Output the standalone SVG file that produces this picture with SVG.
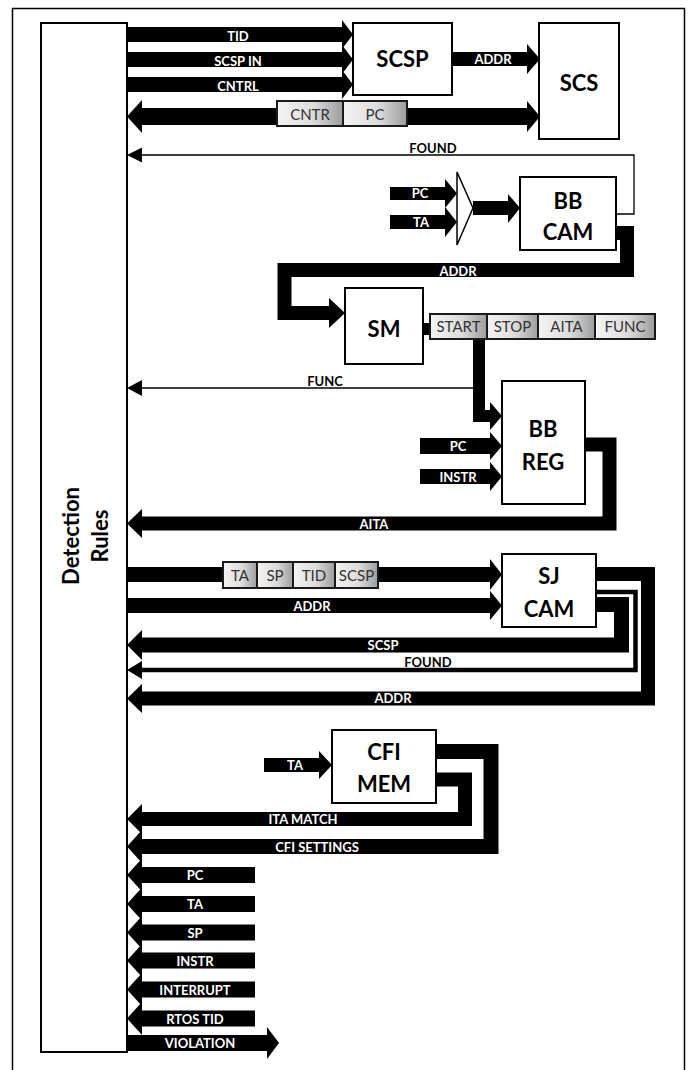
<svg xmlns="http://www.w3.org/2000/svg" width="691" height="1070" viewBox="0 0 691 1070">
<defs>
<linearGradient id="g" x1="0" y1="0" x2="1" y2="0">
<stop offset="0" stop-color="#f4f4f4"/>
<stop offset="0.55" stop-color="#dcdcdc"/>
<stop offset="1" stop-color="#9c9c9c"/>
</linearGradient>
<style>
.frame{fill:none;stroke:#000;stroke-width:1.5}
.box{fill:#fff;stroke:#000;stroke-width:2}
.blk{font-family:Lato,"Liberation Sans",sans-serif;font-weight:bold;font-size:22px;text-anchor:middle;fill:#000}
.lbl{font-family:Lato,"Liberation Sans",sans-serif;font-weight:bold;font-size:13px;text-anchor:middle;fill:#fff}
.lblk{font-family:Lato,"Liberation Sans",sans-serif;font-weight:bold;font-size:13px;text-anchor:middle;fill:#000}
.reg{font-family:Lato,"Liberation Sans",sans-serif;font-size:15px;text-anchor:middle;fill:#333}
.cell{fill:url(#g);stroke:#1a1a1a;stroke-width:2}
.bus{fill:none;stroke:#000;stroke-linejoin:miter}
.thin{fill:none;stroke:#000;stroke-width:1.3}
.hd{fill:#000}
</style>
</defs>
<rect class="frame" x="12.5" y="8.5" width="672" height="1075"/>

<g id="detection-rules">
<rect class="box" x="41" y="23" width="86" height="1029"/>
<text class="blk" font-size="23" transform="translate(79,536) rotate(-90)">Detection</text>
<text class="blk" font-size="23" transform="translate(108,536) rotate(-90)">Rules</text>
</g>

<g id="connectors">
<!-- top inputs to SCSP -->
<rect x="127" y="27" width="215" height="15"/>
<polygon class="hd" points="342,20 353,34.5 342,49"/>
<rect x="127" y="52" width="215" height="15"/>
<polygon class="hd" points="342,45 353,59.5 342,74"/>
<rect x="127" y="77" width="215" height="15"/>
<polygon class="hd" points="342,70 353,84.5 342,99"/>
<!-- CNTR/PC bidirectional -->
<rect x="142" y="108" width="385" height="17"/>
<polygon class="hd" points="142,100 127,116.5 142,133"/>
<polygon class="hd" points="527,101 540,116.5 527,132"/>
<!-- SCSP -> SCS ADDR -->
<rect x="452" y="52" width="75" height="14"/>
<polygon class="hd" points="527,44 540,59 527,74"/>
<!-- FOUND top -->
<path class="thin" d="M142 155 H634 V214 H616"/>
<polygon class="hd" points="142,147.5 127,155 142,162.5"/>
<!-- PC, TA to mux -->
<rect x="390" y="187" width="55" height="13"/>
<polygon class="hd" points="445,179 457,193.5 445,208"/>
<rect x="390" y="215" width="55" height="14"/>
<polygon class="hd" points="445,207 457,222 445,237"/>
<!-- mux -->
<polygon points="457,172 473,208 457,245" fill="#fff" stroke="#000" stroke-width="1.5"/>
<!-- mux -> BB CAM -->
<rect x="473" y="201" width="35" height="14"/>
<polygon class="hd" points="508,194 520,208 508,223"/>
<!-- BB CAM ADDR -> SM -->
<path class="bus" stroke-width="14" d="M616 233 H627 V270 H284.5 V313 H330"/>
<polygon class="hd" points="329,298 345,313 329,328"/>
<!-- SM -> register -->
<rect x="423" y="323" width="8" height="12"/>
<!-- register -> BB REG -->
<path class="bus" stroke-width="12" d="M479 339 V416 H491"/>
<polygon class="hd" points="490,402 502,416 490,430"/>
<!-- FUNC -->
<path class="thin" d="M142 388 H473"/>
<polygon class="hd" points="142,380 127,388 142,396"/>
<!-- PC, INSTR to BB REG -->
<rect x="420" y="438" width="70" height="16"/>
<polygon class="hd" points="490,432 502,446 490,460"/>
<rect x="420" y="469" width="70" height="15"/>
<polygon class="hd" points="490,462 502,476.5 490,491"/>
<!-- AITA -->
<path class="bus" stroke-width="14" d="M585 444.5 H609.5 V523.5 H142"/>
<polygon class="hd" points="142,509 127,523.5 142,538"/>
<!-- SJ inputs -->
<rect x="127" y="567" width="363" height="15"/>
<polygon class="hd" points="490,559 502,574.5 490,590"/>
<rect x="127" y="598" width="363" height="15"/>
<polygon class="hd" points="490,591 502,605.5 490,620"/>
<!-- SJ outputs -->
<path class="bus" stroke-width="15" d="M596 604.5 H621.5 V645 H142"/>
<polygon class="hd" points="142,630 127,645 142,660"/>
<path class="bus" stroke-width="4.5" d="M596 592 H635.5 V670 H142"/>
<path class="bus" stroke="#fff" stroke-width="1.8" d="M596 592 H635.5 V670 H142"/>
<polygon class="hd" points="142,661 127,670 142,679"/>
<path class="bus" stroke-width="14" d="M596 574 H648 V698.5 H142"/>
<polygon class="hd" points="142,684 127,698.5 142,713"/>
<!-- CFI -->
<rect x="264" y="758" width="55" height="14"/>
<polygon class="hd" points="319,751 332,765 319,779"/>
<path class="bus" stroke-width="15" d="M436 751.5 H491 V846.5 H142"/>
<polygon class="hd" points="142,830 127,846.5 142,863"/>
<path class="bus" stroke-width="14" d="M436 779.5 H465 V819 H142"/>
<polygon class="hd" points="142,804 127,819 142,834"/>
<!-- bottom inputs -->
<rect x="142" y="867" width="113" height="16"/>
<polygon class="hd" points="142,858.5 127,875 142,891.5"/>
<rect x="142" y="896" width="113" height="16"/>
<polygon class="hd" points="142,887.5 127,904 142,920.5"/>
<rect x="142" y="924.5" width="113" height="16"/>
<polygon class="hd" points="142,916 127,932.5 142,949"/>
<rect x="142" y="952.5" width="113" height="16"/>
<polygon class="hd" points="142,944 127,960.5 142,977"/>
<rect x="142" y="981.5" width="113" height="16"/>
<polygon class="hd" points="142,973 127,989.5 142,1006"/>
<rect x="142" y="1010.5" width="113" height="16"/>
<polygon class="hd" points="142,1002 127,1018.5 142,1035"/>
<rect x="127" y="1035" width="140" height="16"/>
<polygon class="hd" points="267,1027 279,1043 267,1059"/>

<!-- labels -->
<text class="lbl" x="238" y="41">TID</text>
<text class="lbl" x="238" y="66">SCSP IN</text>
<text class="lbl" x="238" y="91">CNTRL</text>
<text class="lbl" x="493" y="64">ADDR</text>
<text class="lblk" x="433" y="152.5">FOUND</text>
<text class="lbl" x="420" y="198">PC</text>
<text class="lbl" x="421" y="227">TA</text>
<text class="lbl" x="458" y="276">ADDR</text>
<text class="lblk" x="325" y="386">FUNC</text>
<text class="lbl" x="458" y="451">PC</text>
<text class="lbl" x="458" y="482">INSTR</text>
<text class="lbl" x="374" y="529">AITA</text>
<text class="lbl" x="312" y="611">ADDR</text>
<text class="lbl" x="383" y="650">SCSP</text>
<text class="lblk" x="428" y="667">FOUND</text>
<text class="lbl" x="393" y="703">ADDR</text>
<text class="lbl" x="295" y="770">TA</text>
<text class="lbl" x="303" y="824">ITA MATCH</text>
<text class="lbl" x="317" y="852">CFI SETTINGS</text>
<text class="lbl" x="195" y="880">PC</text>
<text class="lbl" x="195" y="909">TA</text>
<text class="lbl" x="195" y="937.5">SP</text>
<text class="lbl" x="195" y="965.5">INSTR</text>
<text class="lbl" x="195" y="994.5">INTERRUPT</text>
<text class="lbl" x="195" y="1023.5">RTOS TID</text>
<text class="lbl" x="200" y="1048">VIOLATION</text>
</g>

<g id="reg-cntr-pc">
<rect class="cell" x="277" y="101" width="66" height="25"/>
<rect class="cell" x="343" y="101" width="64" height="25"/>
<text class="reg" x="310" y="120">CNTR</text>
<text class="reg" x="375" y="120">PC</text>
</g>

<g id="scsp">
<rect class="box" x="353" y="23" width="99" height="72"/>
<text class="blk" x="402.5" y="67">SCSP</text>
</g>

<g id="scs">
<rect class="box" x="539" y="23" width="80" height="116"/>
<text class="blk" x="579" y="91">SCS</text>
</g>

<g id="bb-cam">
<rect class="box" x="520" y="177" width="96" height="73"/>
<text class="blk" x="568" y="209">BB</text>
<text class="blk" x="568" y="240">CAM</text>
</g>

<g id="sm">
<rect class="box" x="345" y="288" width="78" height="76"/>
<text class="blk" x="384" y="337">SM</text>
</g>

<g id="reg-start">
<rect x="429" y="313" width="227" height="27" fill="#1a1a1a"/>
<rect class="cell" x="430" y="314" width="57" height="25"/>
<rect class="cell" x="487" y="314" width="51" height="25"/>
<rect class="cell" x="538" y="314" width="57" height="25"/>
<rect class="cell" x="595" y="314" width="60" height="25"/>
<text class="reg" x="458.5" y="332">START</text>
<text class="reg" x="512.5" y="332">STOP</text>
<text class="reg" x="566.5" y="332">AITA</text>
<text class="reg" x="625" y="332">FUNC</text>
</g>

<g id="bb-reg">
<rect class="box" x="502" y="381" width="83" height="123"/>
<text class="blk" x="543" y="437">BB</text>
<text class="blk" x="543" y="470">REG</text>
</g>

<g id="reg-ta-sp">
<rect class="cell" x="223" y="562" width="34" height="26"/>
<rect class="cell" x="257" y="562" width="36" height="26"/>
<rect class="cell" x="293" y="562" width="42" height="26"/>
<rect class="cell" x="335" y="562" width="43" height="26"/>
<text class="reg" x="240" y="581">TA</text>
<text class="reg" x="275" y="581">SP</text>
<text class="reg" x="314" y="581">TID</text>
<text class="reg" x="356.5" y="581">SCSP</text>
</g>

<g id="sj-cam">
<rect class="box" x="502" y="554" width="94" height="73"/>
<text class="blk" x="549" y="584">SJ</text>
<text class="blk" x="549" y="617">CAM</text>
</g>

<g id="cfi-mem">
<rect class="box" x="332" y="730" width="104" height="73"/>
<text class="blk" x="384" y="760">CFI</text>
<text class="blk" x="384" y="792">MEM</text>
</g>
</svg>
